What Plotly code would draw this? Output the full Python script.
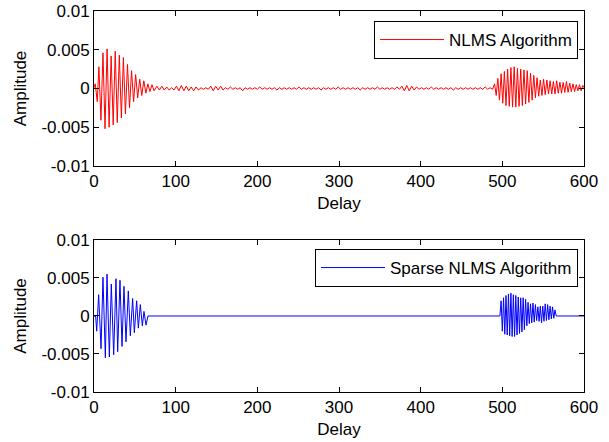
import plotly.graph_objects as go
from plotly.subplots import make_subplots

# amplitudes in units of 1e-4
UNIT = 1e-4

# NLMS estimate: first burst (sample positions of peaks/troughs)
nlms_head_x = [0, 1.5, 4, 6, 8.5, 11, 13.5, 16, 18.5, 21, 23.5, 26, 28.5, 31, 33.5, 36,
               38.5, 41, 43.5, 46, 48.5, 51, 53.5, 56, 58.5, 61, 63.5, 66, 68.5, 71, 73.5]
nlms_head_y = [1, 6, -17, 28, -41, 46, -52, 51, -50, 42, -47, 48, -44, 43, -38, 40,
               -33, 31, -25, 23, -17, 18, -12, 12, -9, 10, -6, 6, -4, 5, -3]

# NLMS estimate: small residual wiggle between the bursts (every 3rd sample from 77)
nlms_noise_start = 77
nlms_noise_y = [3, -2, 3, -2, 2, -2, 1, -2,
                3, -3, 4, -3, 3, -3, 2, -3, 2, -2,
                1, -1, 1, -1,
                3, -3, 3, -2, 3, -2,
                1, -1, 2, -1, 1, -1, 1,
                -3, 1,
                -1, 1, -1, 1, -1, 2, -1, 1, -1, 1,
                -1, 1, -2, 1, -1, 1, -1, 1, -1, 1,
                -1, 2, -1, 1, -1, 1, -1, 1, -1, 1,
                -2, 1, -1, 1, -1, 1, -1, 2, -1, 1,
                -1, 1, -1, 1, -1, 1, -2, 1, -1, 1,
                -1, 1, -1, 2, -1, 1, -1, 1, -1, 1,
                -1, 2, -1,
                3, -3, 4, -3, 3, -2, 2, -1,
                1, -1, 1, -1, 2, -1, 1, -1, 1, -1,
                1, -1, 1, -2, 1, -1, 1, -1, 1, -1,
                1, -1, 1, -1, 1, -1, 2, -1, 1, -1]

# NLMS estimate: second burst and tail
nlms_tail_x = [490.5, 492.5, 494.5, 496.5, 498.5, 500.5, 502.5, 504.5, 506.5, 508.5,
               510.5, 512.5, 514.5, 516.5, 518.5, 520.5, 522.5, 524.5, 526.5, 528.5,
               530.5, 532.5, 534.5, 536.5, 538.5, 540.5, 542.5, 544.5, 546.5, 548.5,
               550.5, 552.5, 554.5, 556.5, 558.5, 560.5, 562.5, 564.5, 566.5, 568.5,
               570.5, 572.5, 574.5, 576.5, 578.5, 580.5, 582.5, 584.5, 586.5, 588.5,
               590.5, 592.5, 594.5, 596.5, 598.5, 600]
nlms_tail_y = [6, -9, 13, -15, 19, -19, 22, -22, 25, -23,
               27, -24, 28, -24, 26, -23, 25, -22, 24, -20,
               23, -18, 20, -15, 17, -12, 14, -10, 11, -9,
               12, -8, 11, -7, 10, -7, 9, -7, 10, -6,
               8, -6, 8, -5, 9, -5, 7, -4, 6, -4,
               5, -3, 5, -3, 4, 1]

# Sparse NLMS estimate
sparse_x = [0, 2, 3.3, 5.7, 8.6, 11, 13.9, 15.9, 18.8, 21.2, 24.1, 26.9, 29, 31.8,
            34.3, 36.7, 39.2, 42, 44.5, 47.3, 49.4, 52.2, 54.3, 56.7, 59.2, 61.2, 63.7, 66.1,
            497, 498.5, 500, 501.5, 503, 504.5, 506, 507.5, 509, 510.5, 512, 513.5, 515,
            516.5, 518, 519.5, 521, 522.5, 524, 525.5, 527, 528.5, 530, 531.5, 533, 534.5,
            536, 537.5, 539, 540.5, 542, 543.5, 545, 546.5, 548, 549.5, 551, 552.5, 554,
            555.5, 557, 558.5, 560, 561.5, 563, 564.5, 566, 600]
sparse_y = [0, 0, -20, 28, -43, 51, -55, 55, -54, 42, -51, 49, -47, 47,
            -40, 39, -34, 33, -26, 23, -22, 20, -16, 15, -13, 6, -12, 0,
            0, 20, -20, 24, -24, 27, -25, 29, -26, 30, -27, 28, -27, 27,
            -25, 25, -23, 24, -21, 24, -18, 22, -13, 18, -10, 16, -9, 17,
            -8, 15, -6, 12, -7, 13, -9, 13, -7, 16, -6, 15, -5, 13,
            -4, 12, -3, 8, 0, 0]

x_ticks = [0, 100, 200, 300, 400, 500, 600]
y_ticks = [-0.01, -0.005, 0, 0.005, 0.01]
y_tick_labels = ['-0.01', '-0.005', '0', '0.005', '0.01']

nlms_noise_x = [nlms_noise_start + 3 * i for i in range(len(nlms_noise_y))]
nlms_x = nlms_head_x + nlms_noise_x + nlms_tail_x
nlms_y = [v * UNIT for v in nlms_head_y + nlms_noise_y + nlms_tail_y]
sparse_vals = [v * UNIT for v in sparse_y]

FONT = dict(family='Liberation Sans, Arial, sans-serif', size=17, color='black')

fig = make_subplots(rows=2, cols=1)
fig.add_trace(go.Scatter(x=nlms_x, y=nlms_y, mode='lines', name='NLMS Algorithm',
                         line=dict(color='#ff0000', width=1), legend='legend',
                         showlegend=True), row=1, col=1)
fig.add_trace(go.Scatter(x=sparse_x, y=sparse_vals, mode='lines', name='Sparse NLMS Algorithm',
                         line=dict(color='#0000ff', width=1), legend='legend2',
                         showlegend=True), row=2, col=1)

axis_style = dict(showline=True, linecolor='black', linewidth=1, mirror='ticks',
                  ticks='inside', ticklen=5, tickcolor='black', showgrid=False,
                  zeroline=False, tickfont=FONT, automargin=False)
for r in (1, 2):
    fig.update_xaxes(axis_style, range=[0, 600], tickvals=x_ticks,
                     title=dict(text='Delay', font=FONT, standoff=6), row=r, col=1)
    fig.update_yaxes(axis_style, range=[-0.01, 0.01], tickvals=y_ticks, ticktext=y_tick_labels,
                     title=dict(text='Amplitude', font=FONT, standoff=10), row=r, col=1)

fig.update_layout(
    width=609, height=442,
    margin=dict(l=94, r=25, t=11, b=50),
    paper_bgcolor='white', plot_bgcolor='white',
    font=FONT,
    showlegend=True,
    yaxis=dict(domain=[0.5932, 1.0]),
    yaxis2=dict(domain=[0.0, 0.399]),
    legend=dict(x=0.9878, y=0.9738, xanchor='right', yanchor='top', bgcolor='white',
                bordercolor='black', borderwidth=1, font=FONT, visible=True, itemwidth=64),
    legend2=dict(x=0.9878, y=0.3753, xanchor='right', yanchor='top', bgcolor='white',
                 bordercolor='black', borderwidth=1, font=FONT, visible=True, itemwidth=64),
)

# the page body has a default margin; drop it so the figure sits at the window corner
fig.write_html('out.html', config={'displayModeBar': False},
               post_script="document.body.style.margin='0';")
